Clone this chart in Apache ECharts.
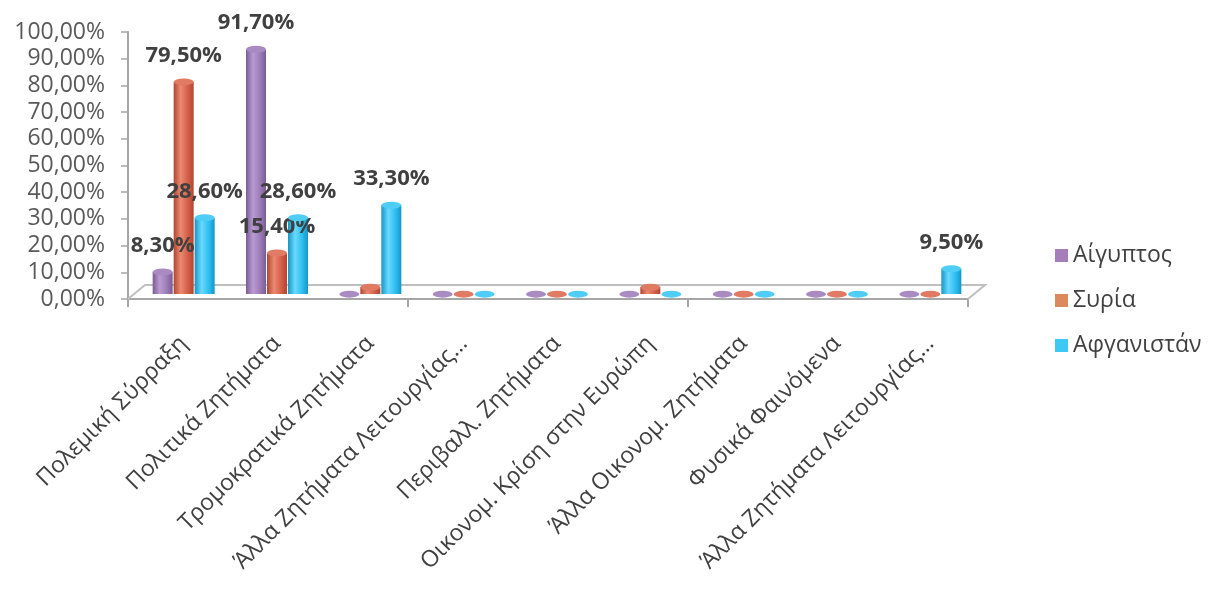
<!DOCTYPE html>
<html>
<head>
<meta charset="utf-8">
<script src="https://cdn.jsdelivr.net/npm/echarts@6/dist/echarts.min.js"></script>
<style>
html,body{margin:0;padding:0;background:#fff;}
#chart{width:1230px;height:590px;}
</style>
</head>
<body>
<div id="chart"></div>
<script>
const categories = [
  'Πολεμική Σύρραξη',
  'Πολιτικά Ζητήματα',
  'Τρομοκρατικά Ζητήματα',
  'Άλλα Ζητήματα Λειτουργίας…',
  'Περιβαλλ. Ζητήματα',
  'Οικονομ. Κρίση στην Ευρώπη',
  'Άλλα Οικονομ. Ζητήματα',
  'Φυσικά Φαινόμενα',
  'Άλλα Ζητήματα Λειτουργίας…'
];
const seriesNames = ['Αίγυπτος', 'Συρία', 'Αφγανιστάν'];
const egypt = [8.3, 91.7, 0, 0, 0, 0, 0, 0, 0];
const syria = [79.5, 15.4, 2.6, 0, 0, 2.6, 0, 0, 0];
const afghanistan = [28.6, 28.6, 33.3, 0, 0, 0, 0, 0, 9.5];
const yTicks = [0, 10, 20, 30, 40, 50, 60, 70, 80, 90, 100];

const allValues = [egypt, syria, afghanistan];
const palette = [
  {dark: '#7a5b95', mid: '#9d7db7', light: '#b99bd2', top: '#a98bc2', legend: '#a57db8'},
  {dark: '#b2452f', mid: '#d4604a', light: '#ea8a72', top: '#e07a63', legend: '#dc8a5c'},
  {dark: '#1596c6', mid: '#2ebff0', light: '#6ad9ff', top: '#4fcdf7', legend: '#3ec8f4'}
];
const FONT = '"Open Sans", "Noto Sans", sans-serif';
const pct = v => v.toFixed(2).replace('.', ',') + '%';

function cyl(p) {
  return new echarts.graphic.LinearGradient(0, 0, 1, 0, [
    {offset: 0, color: p.dark},
    {offset: 0.35, color: p.light},
    {offset: 0.7, color: p.mid},
    {offset: 1, color: p.dark}
  ]);
}

const series = [];
seriesNames.forEach((name, i) => {
  series.push({
    name: name,
    type: 'bar',
    xAxisIndex: 1,
    yAxisIndex: 1,
    data: allValues[i],
    barWidth: 20,
    barGap: '5%',
    itemStyle: {color: cyl(palette[i])},
    label: {
      show: true,
      position: 'top',
      distance: 15,
      fontFamily: FONT,
      fontSize: 22,
      fontWeight: 'bold',
      color: '#404040',
      formatter: p => (p.value >= 5 ? pct(p.value) : '')
    },
    z: 3
  });
});
seriesNames.forEach((name, i) => {
  series.push({
    name: name + ' top',
    type: 'pictorialBar',
    xAxisIndex: 1,
    yAxisIndex: 1,
    data: allValues[i],
    barWidth: 20,
    barGap: '5%',
    symbol: 'circle',
    symbolSize: ['100%', 7],
    symbolPosition: 'end',
    symbolOffset: [0, '-50%'],
    itemStyle: {color: palette[i].top, borderColor: palette[i].dark, borderWidth: 0.5},
    silent: true,
    z: 4
  });
});

const chart = echarts.init(document.getElementById('chart'), null, {renderer: 'canvas'});
chart.setOption({
  animation: false,
  backgroundColor: '#ffffff',
  grid: [
    {left: 128, right: 262, top: 32, bottom: 291, containLabel: false},
    {left: 137, right: 253, top: 27, bottom: 296, containLabel: false}
  ],
  legend: {
    orient: 'vertical',
    left: 1050,
    top: 239,
    itemWidth: 13,
    itemHeight: 13,
    itemGap: 22,
    icon: 'rect',
    textStyle: {fontFamily: FONT, fontSize: 23, color: '#404040'},
    data: seriesNames.map((n, i) => ({name: n, itemStyle: {color: palette[i].legend}}))
  },
  xAxis: [{
    type: 'category',
    gridIndex: 0,
    data: categories,
    axisLine: {show: true, lineStyle: {color: '#a6a6a6', width: 2}},
    axisTick: {show: true, length: 8, lineStyle: {color: '#a6a6a6', width: 2}},
    axisLabel: {show: false},
    splitLine: {show: false}
  }, {
    type: 'category',
    gridIndex: 1,
    data: categories,
    axisLine: {show: false},
    axisTick: {show: false},
    splitLine: {show: false},
    axisLabel: {
      show: true,
      interval: 0,
      rotate: 45,
      margin: 46,
      fontFamily: FONT,
      fontSize: 23,
      color: '#404040'
    }
  }],
  yAxis: [{
    type: 'value',
    gridIndex: 0,
    min: 0,
    max: 100,
    interval: 10,
    axisLine: {show: true, lineStyle: {color: '#a6a6a6', width: 2}},
    axisTick: {show: true, length: 7, lineStyle: {color: '#a6a6a6', width: 1.5}},
    axisLabel: {
      margin: 23,
      fontFamily: FONT,
      fontSize: 23,
      color: '#595959',
      formatter: v => (yTicks.indexOf(v) >= 0 ? pct(v) : '')
    },
    splitLine: {show: false}
  }, {
    type: 'value',
    gridIndex: 1,
    min: 0,
    max: 100,
    interval: 10,
    show: false,
    splitLine: {show: false}
  }],
  series: series
});

// 3D floor outline
const rect = chart.getModel().getComponent('grid', 0).coordinateSystem.getRect();
const x0 = rect.x, x1 = rect.x + rect.width, yb = rect.y + rect.height;
const dx = 17, dy = -14;
chart.setOption({
  graphic: [{
    type: 'polyline',
    z: 1,
    silent: true,
    shape: {points: [[x0, yb], [x0 + dx, yb + dy], [x1 + dx, yb + dy], [x1, yb]]},
    style: {stroke: '#bfbfbf', lineWidth: 2, fill: null}
  }]
});
</script>
</body>
</html>
